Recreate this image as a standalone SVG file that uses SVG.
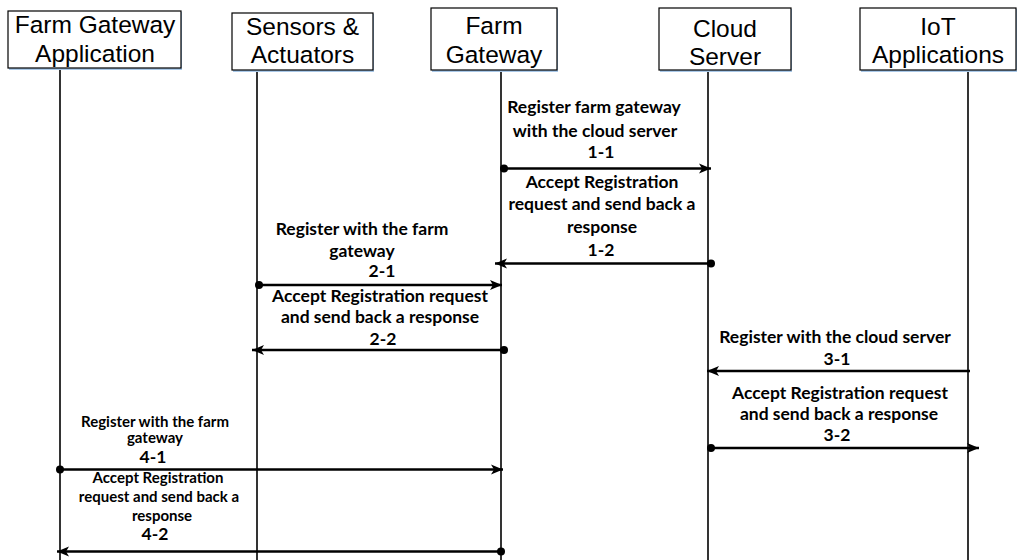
<svg xmlns="http://www.w3.org/2000/svg" width="1027" height="560" viewBox="0 0 1027 560">
  <style>
    .box { fill: #ffffff; stroke: #000000; stroke-width: 1.2; }
    .shade { fill: #a9c8e8; }
    .life { stroke: #000000; stroke-width: 1.6; }
    .msg { stroke: #000000; stroke-width: 2.6; fill: none; marker-end: url(#head); }
    .dot { fill: #000000; }
    .title { font-family: "Liberation Sans", Arial, sans-serif; font-size: 24.5px; fill: #000000; text-anchor: middle; }
    .lbl { font-family: Lato, "Open Sans", sans-serif; font-weight: bold; font-size: 17.5px; fill: #000000; text-anchor: middle; }
    .sm { font-size: 15px; }
  </style>
  <defs>
    <marker id="head" markerUnits="userSpaceOnUse" markerWidth="14" markerHeight="12" viewBox="0 0 14 12" refX="12" refY="6" orient="auto">
      <path d="M0,1 L12,6 L0,11 L3,6 z" fill="#000000"/>
    </marker>
  </defs>
  <rect width="1027" height="560" fill="#ffffff"/>

  <!-- lifelines -->
  <g id="lifelines">
    <line class="life" x1="60" y1="68" x2="60" y2="560"/>
    <line class="life" x1="257" y1="70" x2="257" y2="560"/>
    <line class="life" x1="501" y1="70" x2="501" y2="560"/>
    <line class="life" x1="708" y1="70" x2="708" y2="560"/>
    <line class="life" x1="968" y1="70" x2="968" y2="560"/>
  </g>

  <!-- participants -->
  <g id="farm-gateway-app">
    <rect class="shade" x="9" y="12" width="173" height="58"/>
    <rect class="box" x="8" y="11" width="173" height="57"/>
    <text class="title" x="95" y="33">Farm Gateway</text>
    <text class="title" x="95" y="62">Application</text>
  </g>
  <g id="sensors-actuators">
    <rect class="shade" x="233" y="14" width="141" height="58"/>
    <rect class="box" x="232" y="13" width="141" height="57"/>
    <text class="title" x="302.5" y="35">Sensors &amp;</text>
    <text class="title" x="302.5" y="63">Actuators</text>
  </g>
  <g id="farm-gateway">
    <rect class="shade" x="432" y="9" width="126" height="63"/>
    <rect class="box" x="431" y="8" width="126" height="62"/>
    <text class="title" x="494" y="34">Farm</text>
    <text class="title" x="494" y="63">Gateway</text>
  </g>
  <g id="cloud-server">
    <rect class="shade" x="660" y="9" width="132" height="63"/>
    <rect class="box" x="659" y="8" width="132" height="62"/>
    <text class="title" x="725" y="37">Cloud</text>
    <text class="title" x="725" y="65">Server</text>
  </g>
  <g id="iot-applications">
    <rect class="shade" x="861" y="9" width="156" height="63"/>
    <rect class="box" x="860" y="8" width="156" height="62"/>
    <text class="title" x="938" y="35">IoT</text>
    <text class="title" x="938" y="63">Applications</text>
  </g>

  <!-- messages -->
  <g id="connectors">
    <line class="msg" x1="503" y1="168.5" x2="711" y2="168.5"/>
    <circle class="dot" cx="504" cy="168.5" r="4"/>
    <line class="msg" x1="711" y1="263.5" x2="495" y2="263.5"/>
    <circle class="dot" cx="711" cy="263.5" r="4"/>

    <line class="msg" x1="259" y1="285" x2="502" y2="285"/>
    <circle class="dot" cx="259" cy="285" r="4"/>
    <line class="msg" x1="504" y1="350" x2="252" y2="350"/>
    <circle class="dot" cx="504" cy="350" r="4"/>

    <line class="msg" x1="970" y1="371" x2="707" y2="371"/>
    <line class="msg" x1="711" y1="448" x2="979" y2="448"/>
    <circle class="dot" cx="711" cy="448" r="4"/>

    <line class="msg" x1="60" y1="469.5" x2="503" y2="469.5"/>
    <circle class="dot" cx="60" cy="469.5" r="4"/>
    <line class="msg" x1="501" y1="551.5" x2="57" y2="551.5"/>
    <circle class="dot" cx="501" cy="551.5" r="4"/>
  </g>

  <!-- message labels -->
  <g id="labels">
    <text class="lbl" x="594" y="113">Register farm gateway</text>
    <text class="lbl" x="595" y="137">with the cloud server</text>
    <text class="lbl" x="601" y="158">1-1</text>
    <text class="lbl" x="602" y="188">Accept Registration</text>
    <text class="lbl" x="602" y="210">request and send back a</text>
    <text class="lbl" x="602" y="233">response</text>
    <text class="lbl" x="601" y="256">1-2</text>

    <text class="lbl" x="362" y="235">Register with the farm</text>
    <text class="lbl" x="362" y="257">gateway</text>
    <text class="lbl" x="382" y="277">2-1</text>
    <text class="lbl" x="380" y="302">Accept Registration request</text>
    <text class="lbl" x="380" y="323">and send back a response</text>
    <text class="lbl" x="383" y="345">2-2</text>

    <text class="lbl" x="835" y="343">Register with the cloud server</text>
    <text class="lbl" x="837" y="365">3-1</text>
    <text class="lbl" x="840" y="399">Accept Registration request</text>
    <text class="lbl" x="839" y="420">and send back a response</text>
    <text class="lbl" x="837" y="441">3-2</text>

    <text class="lbl sm" x="155" y="427">Register with the farm</text>
    <text class="lbl sm" x="155" y="443">gateway</text>
    <text class="lbl" x="153" y="463">4-1</text>
    <text class="lbl sm" x="158" y="483">Accept Registration</text>
    <text class="lbl sm" x="159" y="502">request and send back a</text>
    <text class="lbl sm" x="162" y="521">response</text>
    <text class="lbl" x="155" y="540">4-2</text>
  </g>
</svg>
